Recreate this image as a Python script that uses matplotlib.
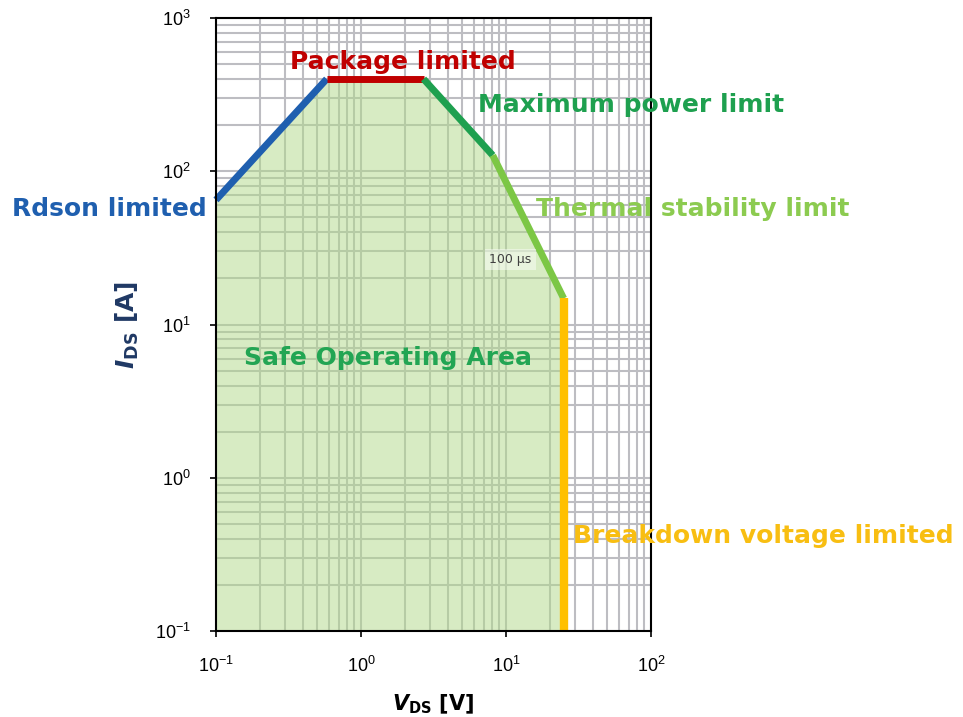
import numpy as np
import matplotlib
matplotlib.use("Agg")
import matplotlib.pyplot as plt
from matplotlib.ticker import LogLocator, FixedLocator

# SOA corner points (V_DS in V, I_DS in A)
vds = [0.1, 0.58, 2.7, 8.1, 25.0, 25.0]
ids = [65.0, 400.0, 400.0, 127.0, 14.8, 0.1]

# one entry per boundary segment
segment_names = ["Rdson limited", "Package limited", "Maximum power limit",
                 "Thermal stability limit", "Breakdown voltage limited"]
segment_colors = ["#1F5FAF", "#C00000", "#1EA04F", "#7CC745", "#FFC000"]

x_ticks = [0.1, 1, 10, 100]
y_ticks = [0.1, 1, 10, 100, 1000]
x_ticklabels = [r"$10^{-1}$", r"$10^{0}$", r"$10^{1}$", r"$10^{2}$"]
y_ticklabels = [r"$10^{-1}$", r"$10^{0}$", r"$10^{1}$", r"$10^{2}$", r"$10^{3}$"]

plt.rcParams["font.family"] = ["DejaVu Sans"]
plt.rcParams["mathtext.fontset"] = "custom"
plt.rcParams["mathtext.rm"] = "Liberation Sans"

fig = plt.figure(figsize=(9.63, 7.17), dpi=100)
ax = fig.add_axes([0.2243, 0.1199, 0.4517, 0.855])
ax.set_xscale("log")
ax.set_yscale("log")
ax.set_xlim(0.1, 100)
ax.set_ylim(0.1, 1000)

# grid (major + minor) under everything
ax.xaxis.set_minor_locator(LogLocator(base=10, subs=np.arange(2, 10)))
ax.yaxis.set_minor_locator(LogLocator(base=10, subs=np.arange(2, 10)))
ax.grid(True, which="both", color="#BDBDC2", lw=1.5, zorder=0)
ax.set_axisbelow(True)

# safe operating area
ax.fill_between(vds, ids, 0.1, color="#B1D989", alpha=0.5, lw=0, zorder=1)

# boundary segments
for i, (name, col) in enumerate(zip(segment_names, segment_colors)):
    lw = 6 if i == 4 else 5
    ax.plot(vds[i:i + 2], ids[i:i + 2], color=col, lw=lw,
            solid_capstyle="butt", zorder=3, clip_on=False)

# tick styling
ax.xaxis.set_major_locator(FixedLocator(x_ticks))
ax.yaxis.set_major_locator(FixedLocator(y_ticks))
ax.set_xticklabels(x_ticklabels)
ax.set_yticklabels(y_ticklabels)
ax.tick_params(which="major", direction="out", length=4, width=1.2,
               labelsize=13, pad=14, colors="black")
ax.tick_params(which="minor", length=0)
for s in ax.spines.values():
    s.set_linewidth(1.5)
    s.set_color("black")
    s.set_zorder(4)

# axis labels
ax.set_xlabel(r"$\mathbfit{V}_{\mathbf{DS}}$ [V]", fontsize=15, fontweight="bold",
              labelpad=12, color="black")
ax.set_ylabel(r"$\mathbfit{I}_{\mathbf{DS}}$ [A]", fontsize=18, fontweight="bold",
              labelpad=10, color="#1F3864")

# region annotations
kw = dict(fontsize=18, fontweight="bold", va="center", clip_on=False, zorder=5)
ax.text(1.95, 515, "Package limited", color=segment_colors[1], ha="center", **kw)
ax.text(6.4, 270, "Maximum power limit", color=segment_colors[2], ha="left", **kw)
ax.text(0.0867, 56.5, "Rdson limited", color=segment_colors[0], ha="right", **kw)
ax.text(16.1, 56.5, "Thermal stability limit", color="#8CCB50", ha="left", **kw)
ax.text(0.156, 6.08, "Safe Operating Area", color="#22A553", ha="left", **kw)
ax.text(29, 0.418, "Breakdown voltage limited", color="#F8BE12", ha="left", **kw)
ax.text(10.7, 26.6, "100 µs", color="#404040", fontsize=9, ha="center", va="center",
        zorder=5, bbox=dict(facecolor="white", alpha=0.45, edgecolor="none", pad=3))

fig.savefig("out.png", dpi=100)
